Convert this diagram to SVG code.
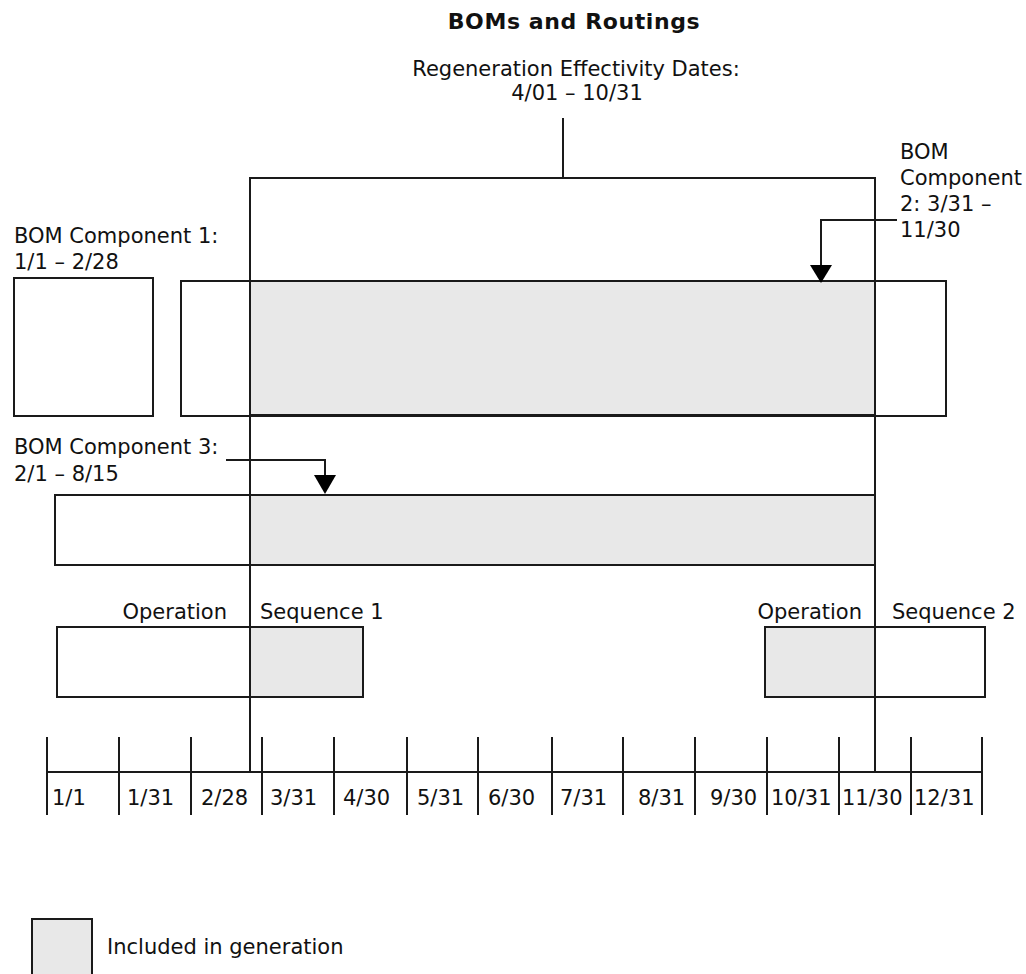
<svg xmlns="http://www.w3.org/2000/svg" width="1026" height="974" viewBox="0 0 1026 974">
<style>
text{font-family:"DejaVu Sans","Liberation Sans",sans-serif;font-size:21px;fill:#111111}
.title{font-weight:bold;font-size:22px;letter-spacing:0.6px}
.box{fill:#ffffff;stroke:#1a1a1a;stroke-width:2}
.inc{fill:#e8e8e8;stroke:#1a1a1a;stroke-width:2}
.ln{stroke:#1a1a1a;stroke-width:2;fill:none}
.ah{fill:#000000}
</style>
<rect width="1026" height="974" fill="#ffffff"/>
<text class="title" x="574" y="29" text-anchor="middle">BOMs and Routings</text>

<g id="comp1">
<text x="14" y="243">BOM Component 1:</text>
<text x="14" y="269">1/1 – 2/28</text>
<rect class="box" x="14" y="278" width="139" height="138"/>
</g>

<g id="comp2">
<text x="900" y="159">BOM</text>
<text x="900" y="185">Component</text>
<text x="900" y="211">2: 3/31 –</text>
<text x="900" y="237">11/30</text>
<rect class="box" x="181" y="281" width="765" height="135"/>
<rect class="inc" x="250" y="281" width="625" height="134"/>
</g>

<g id="comp3">
<text x="14" y="454">BOM Component 3:</text>
<text x="14" y="481">2/1 – 8/15</text>
<rect class="box" x="55" y="495" width="820" height="70"/>
<rect class="inc" x="250" y="495" width="625" height="70"/>
</g>

<g id="op1">
<text x="227" y="619" text-anchor="end">Operation</text>
<text x="260" y="619">Sequence 1</text>
<rect class="box" x="57" y="627" width="306" height="70"/>
<rect class="inc" x="250" y="627" width="113" height="70"/>
</g>

<g id="op2">
<text x="862" y="619" text-anchor="end">Operation</text>
<text x="892" y="619">Sequence 2</text>
<rect class="box" x="765" y="627" width="220" height="70"/>
<rect class="inc" x="765" y="627" width="110" height="70"/>
</g>

<g id="regen">
<text x="576" y="76" text-anchor="middle">Regeneration Effectivity Dates:</text>
<text x="577" y="100" text-anchor="middle">4/01 – 10/31</text>
</g>

<g id="connectors">
<path class="ln" d="M563 118V178"/>
<path class="ln" d="M250 772V178H875V772"/>
<path class="ln" d="M897 220H821V266"/>
<polygon class="ah" points="810,265 832,265 821,283"/>
<path class="ln" d="M226 460H325V476"/>
<polygon class="ah" points="314,475 336,475 325,494"/>
</g>

<g id="timeline">
<path class="ln" d="M47 772H982"/>
<path class="ln" d="M47 737V815M119 737V815M191 737V815M262 737V815M334 737V815M407 737V815M478 737V815M552 737V815M623 737V815M695 737V815M767 737V815M839 737V815M911 737V815M982 737V815"/>
<text x="52" y="805">1/1</text>
<text x="127" y="805">1/31</text>
<text x="201" y="805">2/28</text>
<text x="270" y="805">3/31</text>
<text x="343" y="805">4/30</text>
<text x="417" y="805">5/31</text>
<text x="488" y="805">6/30</text>
<text x="560" y="805">7/31</text>
<text x="638" y="805">8/31</text>
<text x="710" y="805">9/30</text>
<text x="771" y="805">10/31</text>
<text x="842" y="805">11/30</text>
<text x="914" y="805">12/31</text>
</g>

<g id="legend">
<rect class="inc" x="32" y="919" width="60" height="70"/>
<text x="107" y="954">Included in generation</text>
</g>
</svg>
